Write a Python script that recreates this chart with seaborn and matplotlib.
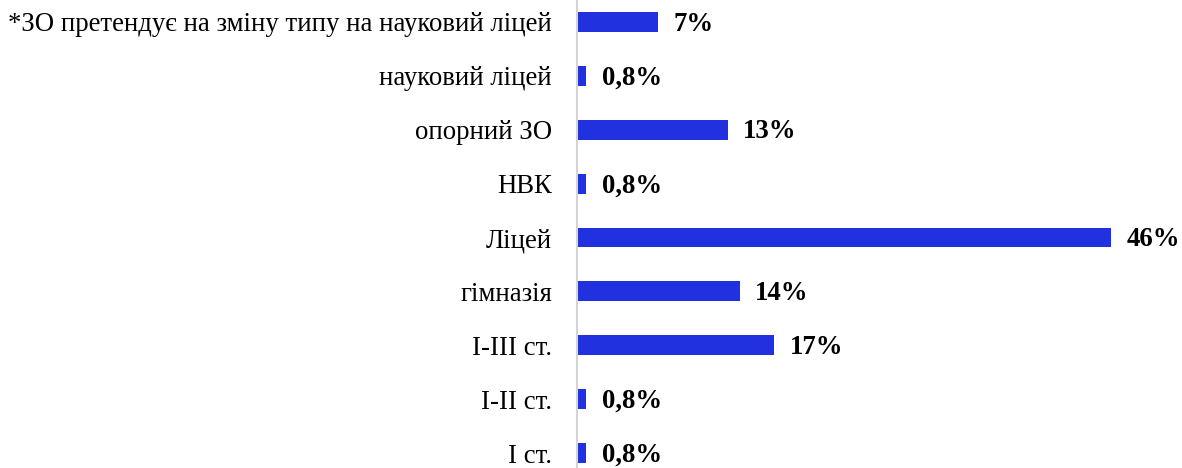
import matplotlib
matplotlib.use("Agg")
import pandas as pd
import matplotlib.pyplot as plt
import seaborn as sns

# дані, зверху вниз
categories = [
    "*ЗО претендує на зміну типу на науковий ліцей",
    "науковий ліцей",
    "опорний ЗО",
    "НВК",
    "Ліцей",
    "гімназія",
    "І-ІІІ ст.",
    "І-ІІ ст.",
    "І ст.",
]
values = [7, 0.8, 13, 0.8, 46, 14, 17, 0.8, 0.8]
value_labels = ["7%", "0,8%", "13%", "0,8%", "46%", "14%", "17%", "0,8%", "0,8%"]


def plot():
    sns.set_theme(style="white")
    plt.rcParams["font.family"] = ["Liberation Serif", "DejaVu Serif"]

    df = pd.DataFrame({"cat": categories, "val": values})

    fig = plt.figure(figsize=(11.82, 4.68), dpi=100)
    ax = fig.add_axes([577 / 1182, 0, 1 - 577 / 1182, 1])

    sns.barplot(data=df, x="val", y="cat", orient="h", color="#2131E0",
                saturation=1, width=0.37, linewidth=0, ax=ax)

    # 46% -> 1111 px
    ax.set_xlim(0, (1182 - 577) / ((1111 - 577) / 46))
    ax.set_ylim(8.278, -0.408)

    for i, (v, lab) in enumerate(zip(values, value_labels)):
        ax.annotate(lab, (v, i), xytext=(11, -1.5), textcoords="offset points",
                    va="center", ha="left", fontsize=19.3, fontweight="bold",
                    color="black")

    ax.set_xlabel("")
    ax.set_ylabel("")
    ax.set_xticks([])
    ax.tick_params(axis="y", length=0, pad=18, labelsize=19.3, labelcolor="black")
    for s in ["top", "right", "bottom"]:
        ax.spines[s].set_visible(False)
    ax.spines["left"].set_color("#d4d4d4")
    ax.spines["left"].set_linewidth(1.5)

    fig.savefig("out.png", dpi=100)
    plt.close(fig)


if __name__ == "__main__":
    plot()
